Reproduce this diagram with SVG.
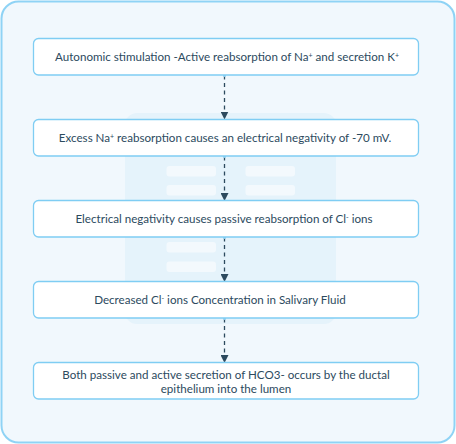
<svg xmlns="http://www.w3.org/2000/svg" width="456" height="444" viewBox="0 0 456 444">
<style>
.box{fill:#ffffff;stroke:#7fcdf3;stroke-width:1.3}
.t{font-family:Lato,"Open Sans",sans-serif;font-size:11.6px;fill:#2c4a5e;text-anchor:middle}
.sup{font-size:7px}
.conn{stroke:#2c4a5e;stroke-width:1.3;stroke-dasharray:4 3.5;fill:none}
.wm{fill:#e5f3fb}
.bar{fill:#f3f9fd}
</style>
<defs>
<marker id="arr" viewBox="0 0 8 8" refX="7.5" refY="4" markerWidth="8" markerHeight="8" markerUnits="userSpaceOnUse" orient="auto">
<path d="M0,0 L8,4 L0,8 z" fill="#2c4a5e"/>
</marker>
<marker id="dot" viewBox="0 0 4 4" refX="2" refY="2" markerWidth="3" markerHeight="3" markerUnits="userSpaceOnUse">
<circle cx="2" cy="2" r="2" fill="#8fd0f2"/>
</marker>
</defs>
<rect x="1.5" y="1.5" width="453" height="441" rx="17" fill="#f1f8fd" stroke="#8fd3f5" stroke-width="2"/>
<g id="watermark">
<rect class="wm" x="125" y="113" width="211" height="211" rx="12"/>
<rect class="bar" x="166.5" y="166" width="49.5" height="10.5" rx="3"/>
<rect class="bar" x="245.5" y="166" width="49.5" height="10.5" rx="3"/>
<rect class="bar" x="166.5" y="185" width="49.5" height="10.5" rx="3"/>
<rect class="bar" x="245.5" y="185" width="49.5" height="10.5" rx="3"/>
<rect class="bar" x="166.5" y="242" width="49.5" height="10.5" rx="3"/>
<rect class="bar" x="166.5" y="261.5" width="49.5" height="10.5" rx="3"/>
</g>
<g id="connectors">
<line class="conn" x1="224.5" y1="75.5" x2="224.5" y2="119" marker-start="url(#dot)" marker-end="url(#arr)"/>
<line class="conn" x1="224.5" y1="156.5" x2="224.5" y2="200.5" marker-start="url(#dot)" marker-end="url(#arr)"/>
<line class="conn" x1="224.5" y1="237.5" x2="224.5" y2="281.5" marker-start="url(#dot)" marker-end="url(#arr)"/>
<line class="conn" x1="224.5" y1="318.5" x2="224.5" y2="362.5" marker-start="url(#dot)" marker-end="url(#arr)"/>
</g>
<g id="n1">
<rect class="box" x="33.5" y="38.5" width="385" height="36.5" rx="5"/>
<text class="t" x="227" y="60.5">Autonomic stimulation -Active reabsorption of Na<tspan class="sup" dy="-3">+</tspan><tspan dy="3"> and secretion K</tspan><tspan class="sup" dy="-3">+</tspan></text>
</g>
<g id="n2">
<rect class="box" x="33.5" y="119.5" width="385" height="36.5" rx="5"/>
<text class="t" x="225" y="141.5">Excess Na<tspan class="sup" dy="-3">+</tspan><tspan dy="3"> reabsorption causes an electrical negativity of -70 mV.</tspan></text>
</g>
<g id="n3">
<rect class="box" x="33.5" y="200.5" width="385" height="36.5" rx="5"/>
<text class="t" x="224" y="222.5">Electrical negativity causes passive reabsorption of Cl<tspan class="sup" dy="-3">-</tspan><tspan dy="3"> ions</tspan></text>
</g>
<g id="n4">
<rect class="box" x="33.5" y="281.5" width="385" height="36.5" rx="5"/>
<text class="t" x="220" y="303.5">Decreased Cl<tspan class="sup" dy="-3">-</tspan><tspan dy="3"> ions Concentration in Salivary Fluid</tspan></text>
</g>
<g id="n5">
<rect class="box" x="33.5" y="362.5" width="385" height="36.5" rx="5"/>
<text class="t" x="226" y="378.5">Both passive and active secretion of HCO3- occurs by the ductal</text>
<text class="t" x="226" y="392.5">epithelium into the lumen</text>
</g>
</svg>
